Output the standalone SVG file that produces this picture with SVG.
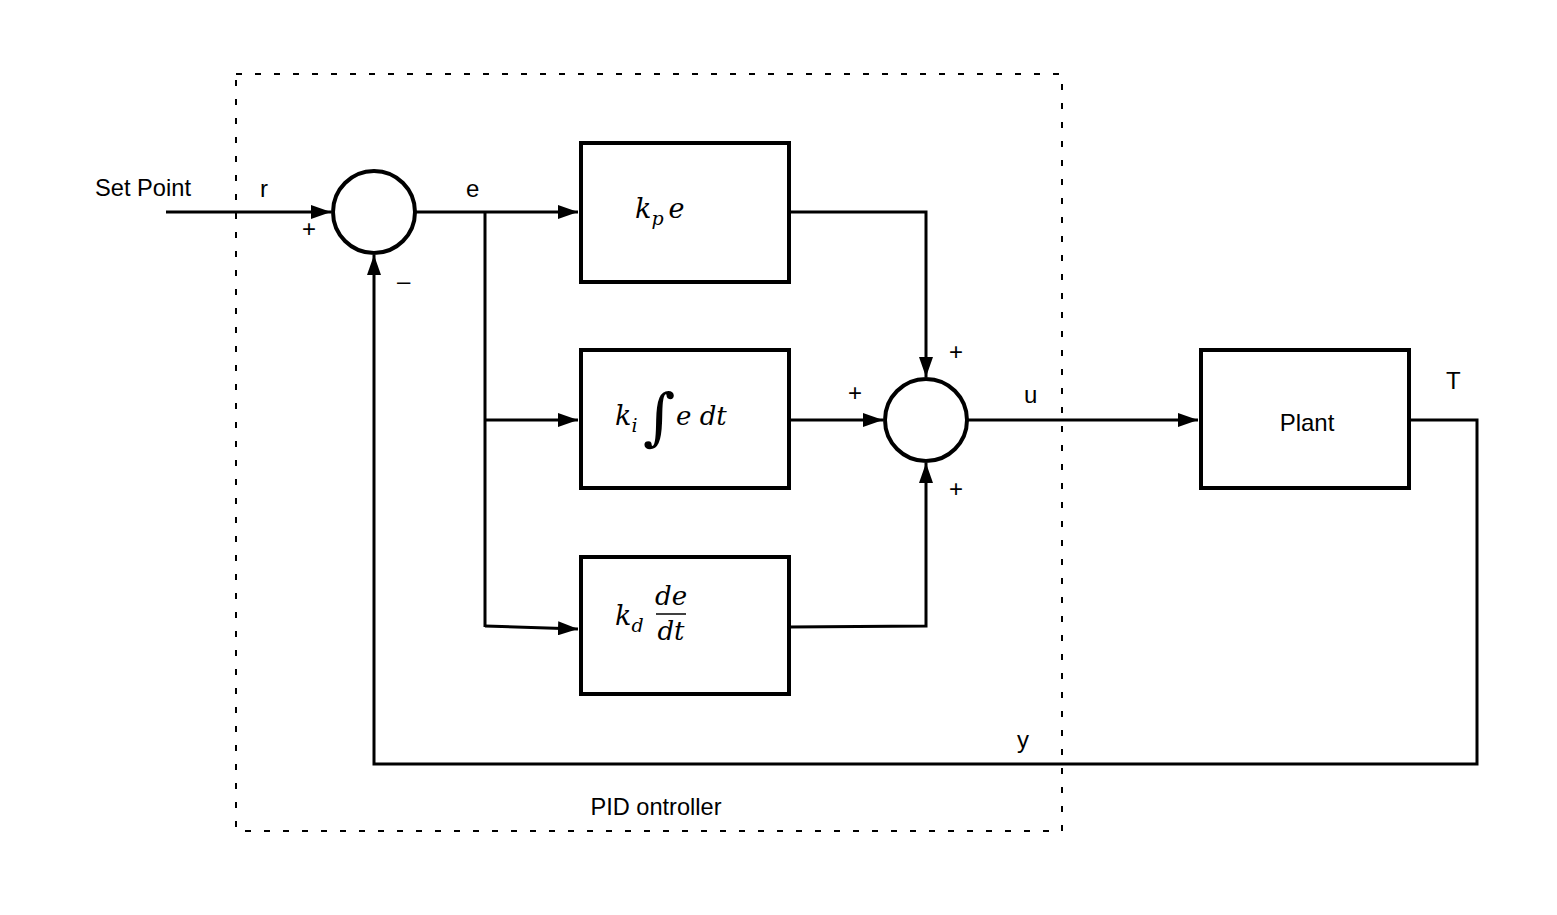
<svg xmlns="http://www.w3.org/2000/svg" width="1557" height="915" viewBox="0 0 1557 915">
<defs>
<style>
.box{fill:#fff;stroke:#000;stroke-width:4}
.sum{fill:#fff;stroke:#000;stroke-width:4}
.wire{fill:none;stroke:#000;stroke-width:3}
.lbl{font-family:"Liberation Sans",Arial,sans-serif;font-size:24px;fill:#000}
.math{font-family:"DejaVu Serif","Liberation Serif",serif;font-style:italic;fill:#000}
.dash{fill:none;stroke:#000;stroke-width:2;stroke-dasharray:6 13}
</style>
<marker id="ah" viewBox="0 0 20 14" refX="20" refY="7" markerWidth="20" markerHeight="14" orient="auto" markerUnits="userSpaceOnUse">
<path d="M0,0 L20,7 L0,14 z" fill="#000"/>
</marker>
</defs>
<rect width="1557" height="915" fill="#fff"/>
<g id="pid-boundary">
<rect class="dash" x="236" y="74" width="826" height="757"/>
<text class="lbl" x="656" y="815" text-anchor="middle" textLength="131" lengthAdjust="spacingAndGlyphs">PID ontroller</text>
</g>
<g id="connectors">
<path class="wire" d="M166,212 H331" marker-end="url(#ah)"/>
<path class="wire" d="M415,212 H578" marker-end="url(#ah)"/>
<path class="wire" d="M485,212 V627"/>
<path class="wire" d="M485,420 H578" marker-end="url(#ah)"/>
<path class="wire" d="M485,626 L578,629" marker-end="url(#ah)"/>
<path class="wire" d="M789,212 H926 V377" marker-end="url(#ah)"/>
<path class="wire" d="M789,420 H883" marker-end="url(#ah)"/>
<path class="wire" d="M789,627 L926,626 V463" marker-end="url(#ah)"/>
<path class="wire" d="M967,420 H1198" marker-end="url(#ah)"/>
<path class="wire" d="M1409,420 H1477 V764 H374 V255" marker-end="url(#ah)"/>
</g>
<g id="sum1">
<circle class="sum" cx="374" cy="212" r="41"/>
</g>
<g id="sum2">
<circle class="sum" cx="926" cy="420" r="41"/>
</g>
<g id="kp">
<rect class="box" x="581" y="143" width="208" height="139"/>
<text class="math" x="635" y="218" font-size="27">k<tspan font-size="19" dy="7">p</tspan><tspan dy="-7" dx="5">e</tspan></text>
</g>
<g id="ki">
<rect class="box" x="581" y="350" width="208" height="138"/>
<text class="math" x="615" y="425" font-size="27">k<tspan font-size="19" dy="7">i</tspan></text>
<text class="math" x="643" y="438" font-size="62" font-style="normal">∫</text>
<text class="math" x="676" y="425" font-size="26">e dt</text>
</g>
<g id="kd">
<rect class="box" x="581" y="557" width="208" height="137"/>
<text class="math" x="615" y="625" font-size="27">k<tspan font-size="19" dy="7">d</tspan></text>
<text class="math" x="671" y="605" font-size="26" text-anchor="middle">de</text>
<line x1="656" y1="614" x2="686" y2="614" stroke="#000" stroke-width="1.5"/>
<text class="math" x="671" y="640" font-size="26" text-anchor="middle">dt</text>
</g>
<g id="plant">
<rect class="box" x="1201" y="350" width="208" height="138"/>
<text class="lbl" x="1307" y="431" text-anchor="middle">Plant</text>
</g>
<g id="labels">
<text class="lbl" x="95" y="196" textLength="96" lengthAdjust="spacingAndGlyphs">Set Point</text>
<text class="lbl" x="260" y="197">r</text>
<text class="lbl" x="466" y="197">e</text>
<text class="lbl" x="302" y="237">+</text>
<text class="lbl" x="397" y="289">–</text>
<text class="lbl" x="949" y="360">+</text>
<text class="lbl" x="848" y="401">+</text>
<text class="lbl" x="1024" y="403">u</text>
<text class="lbl" x="949" y="497">+</text>
<text class="lbl" x="1446" y="389">T</text>
<text class="lbl" x="1017" y="748">y</text>
</g>
</svg>
